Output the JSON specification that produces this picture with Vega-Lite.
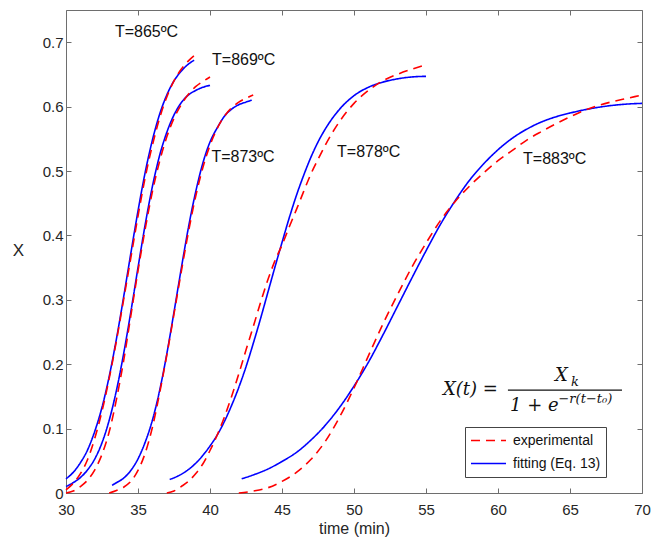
{
  "$schema": "https://vega.github.io/schema/vega-lite/v6.json",
  "width": 576,
  "height": 483,
  "autosize": "none",
  "padding": {"left": 66, "top": 10, "right": 12, "bottom": 54},
  "background": "white",
  "config": {
    "view": {"stroke": null},
    "font": "Liberation Sans",
    "axis": {"grid": false, "domainColor": "#6e6e6e", "tickColor": "#6e6e6e", "labelColor": "#262626", "titleColor": "#262626", "labelFont": "Liberation Sans", "titleFont": "Liberation Sans", "labelFontSize": 15, "titleFontSize": 16, "titleFontWeight": "normal", "tickSize": -5, "domainWidth": 1, "labelFlush": false, "labelOverlap": false}
  },
  "datasets": {
    "curves": [
      {"t": 30, "X": 0.022, "T": "865", "type": "fitting (Eq. 13)"},
      {"t": 30.5, "X": 0.032, "T": "865", "type": "fitting (Eq. 13)"},
      {"t": 31, "X": 0.047, "T": "865", "type": "fitting (Eq. 13)"},
      {"t": 31.5, "X": 0.067, "T": "865", "type": "fitting (Eq. 13)"},
      {"t": 32, "X": 0.096, "T": "865", "type": "fitting (Eq. 13)"},
      {"t": 32.5, "X": 0.133, "T": "865", "type": "fitting (Eq. 13)"},
      {"t": 33, "X": 0.181, "T": "865", "type": "fitting (Eq. 13)"},
      {"t": 33.5, "X": 0.239, "T": "865", "type": "fitting (Eq. 13)"},
      {"t": 34, "X": 0.304, "T": "865", "type": "fitting (Eq. 13)"},
      {"t": 34.5, "X": 0.372, "T": "865", "type": "fitting (Eq. 13)"},
      {"t": 35, "X": 0.438, "T": "865", "type": "fitting (Eq. 13)"},
      {"t": 35.5, "X": 0.498, "T": "865", "type": "fitting (Eq. 13)"},
      {"t": 36, "X": 0.548, "T": "865", "type": "fitting (Eq. 13)"},
      {"t": 36.5, "X": 0.588, "T": "865", "type": "fitting (Eq. 13)"},
      {"t": 37, "X": 0.618, "T": "865", "type": "fitting (Eq. 13)"},
      {"t": 37.5, "X": 0.64, "T": "865", "type": "fitting (Eq. 13)"},
      {"t": 38, "X": 0.655, "T": "865", "type": "fitting (Eq. 13)"},
      {"t": 38.5, "X": 0.666, "T": "865", "type": "fitting (Eq. 13)"},
      {"t": 38.9, "X": 0.672, "T": "865", "type": "fitting (Eq. 13)"},

      {"t": 30, "X": 0.005, "T": "865", "type": "experimental"},
      {"t": 30.5, "X": 0.015, "T": "865", "type": "experimental"},
      {"t": 31, "X": 0.03, "T": "865", "type": "experimental"},
      {"t": 31.5, "X": 0.052, "T": "865", "type": "experimental"},
      {"t": 32, "X": 0.085, "T": "865", "type": "experimental"},
      {"t": 32.5, "X": 0.127, "T": "865", "type": "experimental"},
      {"t": 33, "X": 0.178, "T": "865", "type": "experimental"},
      {"t": 33.5, "X": 0.236, "T": "865", "type": "experimental"},
      {"t": 34, "X": 0.3, "T": "865", "type": "experimental"},
      {"t": 34.5, "X": 0.365, "T": "865", "type": "experimental"},
      {"t": 35, "X": 0.43, "T": "865", "type": "experimental"},
      {"t": 35.5, "X": 0.49, "T": "865", "type": "experimental"},
      {"t": 36, "X": 0.54, "T": "865", "type": "experimental"},
      {"t": 36.5, "X": 0.582, "T": "865", "type": "experimental"},
      {"t": 37, "X": 0.615, "T": "865", "type": "experimental"},
      {"t": 37.5, "X": 0.64, "T": "865", "type": "experimental"},
      {"t": 38, "X": 0.658, "T": "865", "type": "experimental"},
      {"t": 38.5, "X": 0.671, "T": "865", "type": "experimental"},
      {"t": 39, "X": 0.681, "T": "865", "type": "experimental"},

      {"t": 30, "X": 0.01, "T": "869", "type": "fitting (Eq. 13)"},
      {"t": 30.5, "X": 0.016, "T": "869", "type": "fitting (Eq. 13)"},
      {"t": 31, "X": 0.024, "T": "869", "type": "fitting (Eq. 13)"},
      {"t": 31.5, "X": 0.036, "T": "869", "type": "fitting (Eq. 13)"},
      {"t": 32, "X": 0.053, "T": "869", "type": "fitting (Eq. 13)"},
      {"t": 32.5, "X": 0.078, "T": "869", "type": "fitting (Eq. 13)"},
      {"t": 33, "X": 0.113, "T": "869", "type": "fitting (Eq. 13)"},
      {"t": 33.5, "X": 0.159, "T": "869", "type": "fitting (Eq. 13)"},
      {"t": 34, "X": 0.216, "T": "869", "type": "fitting (Eq. 13)"},
      {"t": 34.5, "X": 0.281, "T": "869", "type": "fitting (Eq. 13)"},
      {"t": 35, "X": 0.35, "T": "869", "type": "fitting (Eq. 13)"},
      {"t": 35.5, "X": 0.417, "T": "869", "type": "fitting (Eq. 13)"},
      {"t": 36, "X": 0.476, "T": "869", "type": "fitting (Eq. 13)"},
      {"t": 36.5, "X": 0.524, "T": "869", "type": "fitting (Eq. 13)"},
      {"t": 37, "X": 0.56, "T": "869", "type": "fitting (Eq. 13)"},
      {"t": 37.5, "X": 0.587, "T": "869", "type": "fitting (Eq. 13)"},
      {"t": 38, "X": 0.606, "T": "869", "type": "fitting (Eq. 13)"},
      {"t": 38.5, "X": 0.618, "T": "869", "type": "fitting (Eq. 13)"},
      {"t": 39, "X": 0.625, "T": "869", "type": "fitting (Eq. 13)"},
      {"t": 39.5, "X": 0.63, "T": "869", "type": "fitting (Eq. 13)"},
      {"t": 40, "X": 0.633, "T": "869", "type": "fitting (Eq. 13)"},

      {"t": 30, "X": 0.0, "T": "869", "type": "experimental"},
      {"t": 30.5, "X": 0.003, "T": "869", "type": "experimental"},
      {"t": 31, "X": 0.01, "T": "869", "type": "experimental"},
      {"t": 31.5, "X": 0.02, "T": "869", "type": "experimental"},
      {"t": 32, "X": 0.036, "T": "869", "type": "experimental"},
      {"t": 32.5, "X": 0.06, "T": "869", "type": "experimental"},
      {"t": 33, "X": 0.095, "T": "869", "type": "experimental"},
      {"t": 33.5, "X": 0.145, "T": "869", "type": "experimental"},
      {"t": 34, "X": 0.205, "T": "869", "type": "experimental"},
      {"t": 34.5, "X": 0.275, "T": "869", "type": "experimental"},
      {"t": 35, "X": 0.345, "T": "869", "type": "experimental"},
      {"t": 35.5, "X": 0.41, "T": "869", "type": "experimental"},
      {"t": 36, "X": 0.468, "T": "869", "type": "experimental"},
      {"t": 36.5, "X": 0.515, "T": "869", "type": "experimental"},
      {"t": 37, "X": 0.553, "T": "869", "type": "experimental"},
      {"t": 37.5, "X": 0.582, "T": "869", "type": "experimental"},
      {"t": 38, "X": 0.603, "T": "869", "type": "experimental"},
      {"t": 38.5, "X": 0.619, "T": "869", "type": "experimental"},
      {"t": 39, "X": 0.631, "T": "869", "type": "experimental"},
      {"t": 39.5, "X": 0.639, "T": "869", "type": "experimental"},
      {"t": 40, "X": 0.646, "T": "869", "type": "experimental"},

      {"t": 33.2, "X": 0.012, "T": "873", "type": "fitting (Eq. 13)"},
      {"t": 33.5, "X": 0.016, "T": "873", "type": "fitting (Eq. 13)"},
      {"t": 34, "X": 0.023, "T": "873", "type": "fitting (Eq. 13)"},
      {"t": 34.5, "X": 0.035, "T": "873", "type": "fitting (Eq. 13)"},
      {"t": 35, "X": 0.053, "T": "873", "type": "fitting (Eq. 13)"},
      {"t": 35.5, "X": 0.079, "T": "873", "type": "fitting (Eq. 13)"},
      {"t": 36, "X": 0.113, "T": "873", "type": "fitting (Eq. 13)"},
      {"t": 36.5, "X": 0.159, "T": "873", "type": "fitting (Eq. 13)"},
      {"t": 37, "X": 0.216, "T": "873", "type": "fitting (Eq. 13)"},
      {"t": 37.5, "X": 0.281, "T": "873", "type": "fitting (Eq. 13)"},
      {"t": 38, "X": 0.348, "T": "873", "type": "fitting (Eq. 13)"},
      {"t": 38.5, "X": 0.412, "T": "873", "type": "fitting (Eq. 13)"},
      {"t": 39, "X": 0.467, "T": "873", "type": "fitting (Eq. 13)"},
      {"t": 39.5, "X": 0.512, "T": "873", "type": "fitting (Eq. 13)"},
      {"t": 40, "X": 0.545, "T": "873", "type": "fitting (Eq. 13)"},
      {"t": 40.5, "X": 0.567, "T": "873", "type": "fitting (Eq. 13)"},
      {"t": 41, "X": 0.585, "T": "873", "type": "fitting (Eq. 13)"},
      {"t": 41.5, "X": 0.596, "T": "873", "type": "fitting (Eq. 13)"},
      {"t": 42, "X": 0.603, "T": "873", "type": "fitting (Eq. 13)"},
      {"t": 42.5, "X": 0.607, "T": "873", "type": "fitting (Eq. 13)"},
      {"t": 42.9, "X": 0.61, "T": "873", "type": "fitting (Eq. 13)"},

      {"t": 33, "X": 0.0, "T": "873", "type": "experimental"},
      {"t": 33.5, "X": 0.004, "T": "873", "type": "experimental"},
      {"t": 34, "X": 0.009, "T": "873", "type": "experimental"},
      {"t": 34.5, "X": 0.018, "T": "873", "type": "experimental"},
      {"t": 35, "X": 0.035, "T": "873", "type": "experimental"},
      {"t": 35.5, "X": 0.062, "T": "873", "type": "experimental"},
      {"t": 36, "X": 0.102, "T": "873", "type": "experimental"},
      {"t": 36.5, "X": 0.155, "T": "873", "type": "experimental"},
      {"t": 37, "X": 0.214, "T": "873", "type": "experimental"},
      {"t": 37.5, "X": 0.278, "T": "873", "type": "experimental"},
      {"t": 38, "X": 0.343, "T": "873", "type": "experimental"},
      {"t": 38.5, "X": 0.405, "T": "873", "type": "experimental"},
      {"t": 39, "X": 0.46, "T": "873", "type": "experimental"},
      {"t": 39.5, "X": 0.505, "T": "873", "type": "experimental"},
      {"t": 40, "X": 0.54, "T": "873", "type": "experimental"},
      {"t": 40.5, "X": 0.566, "T": "873", "type": "experimental"},
      {"t": 41, "X": 0.585, "T": "873", "type": "experimental"},
      {"t": 41.5, "X": 0.598, "T": "873", "type": "experimental"},
      {"t": 42, "X": 0.607, "T": "873", "type": "experimental"},
      {"t": 42.5, "X": 0.613, "T": "873", "type": "experimental"},
      {"t": 43, "X": 0.618, "T": "873", "type": "experimental"},

      {"t": 37.2, "X": 0.021, "T": "878", "type": "fitting (Eq. 13)"},
      {"t": 38, "X": 0.029, "T": "878", "type": "fitting (Eq. 13)"},
      {"t": 39, "X": 0.046, "T": "878", "type": "fitting (Eq. 13)"},
      {"t": 40, "X": 0.073, "T": "878", "type": "fitting (Eq. 13)"},
      {"t": 40.5, "X": 0.09, "T": "878", "type": "fitting (Eq. 13)"},
      {"t": 41, "X": 0.111, "T": "878", "type": "fitting (Eq. 13)"},
      {"t": 41.5, "X": 0.136, "T": "878", "type": "fitting (Eq. 13)"},
      {"t": 42, "X": 0.164, "T": "878", "type": "fitting (Eq. 13)"},
      {"t": 42.5, "X": 0.196, "T": "878", "type": "fitting (Eq. 13)"},
      {"t": 43, "X": 0.232, "T": "878", "type": "fitting (Eq. 13)"},
      {"t": 43.5, "X": 0.27, "T": "878", "type": "fitting (Eq. 13)"},
      {"t": 44, "X": 0.31, "T": "878", "type": "fitting (Eq. 13)"},
      {"t": 44.5, "X": 0.35, "T": "878", "type": "fitting (Eq. 13)"},
      {"t": 45, "X": 0.389, "T": "878", "type": "fitting (Eq. 13)"},
      {"t": 45.5, "X": 0.427, "T": "878", "type": "fitting (Eq. 13)"},
      {"t": 46, "X": 0.462, "T": "878", "type": "fitting (Eq. 13)"},
      {"t": 46.5, "X": 0.493, "T": "878", "type": "fitting (Eq. 13)"},
      {"t": 47, "X": 0.521, "T": "878", "type": "fitting (Eq. 13)"},
      {"t": 47.5, "X": 0.545, "T": "878", "type": "fitting (Eq. 13)"},
      {"t": 48, "X": 0.565, "T": "878", "type": "fitting (Eq. 13)"},
      {"t": 49, "X": 0.596, "T": "878", "type": "fitting (Eq. 13)"},
      {"t": 50, "X": 0.617, "T": "878", "type": "fitting (Eq. 13)"},
      {"t": 51, "X": 0.63, "T": "878", "type": "fitting (Eq. 13)"},
      {"t": 52, "X": 0.638, "T": "878", "type": "fitting (Eq. 13)"},
      {"t": 53, "X": 0.643, "T": "878", "type": "fitting (Eq. 13)"},
      {"t": 54, "X": 0.646, "T": "878", "type": "fitting (Eq. 13)"},
      {"t": 55, "X": 0.647, "T": "878", "type": "fitting (Eq. 13)"},

      {"t": 37, "X": 0.0, "T": "878", "type": "experimental"},
      {"t": 37.5, "X": 0.003, "T": "878", "type": "experimental"},
      {"t": 38, "X": 0.01, "T": "878", "type": "experimental"},
      {"t": 38.5, "X": 0.018, "T": "878", "type": "experimental"},
      {"t": 39, "X": 0.03, "T": "878", "type": "experimental"},
      {"t": 39.5, "X": 0.045, "T": "878", "type": "experimental"},
      {"t": 40, "X": 0.066, "T": "878", "type": "experimental"},
      {"t": 40.5, "X": 0.09, "T": "878", "type": "experimental"},
      {"t": 41, "X": 0.118, "T": "878", "type": "experimental"},
      {"t": 41.5, "X": 0.15, "T": "878", "type": "experimental"},
      {"t": 42, "X": 0.185, "T": "878", "type": "experimental"},
      {"t": 42.5, "X": 0.222, "T": "878", "type": "experimental"},
      {"t": 43, "X": 0.258, "T": "878", "type": "experimental"},
      {"t": 43.5, "X": 0.295, "T": "878", "type": "experimental"},
      {"t": 44, "X": 0.33, "T": "878", "type": "experimental"},
      {"t": 44.5, "X": 0.36, "T": "878", "type": "experimental"},
      {"t": 45, "X": 0.385, "T": "878", "type": "experimental"},
      {"t": 45.5, "X": 0.413, "T": "878", "type": "experimental"},
      {"t": 46, "X": 0.44, "T": "878", "type": "experimental"},
      {"t": 46.5, "X": 0.468, "T": "878", "type": "experimental"},
      {"t": 47, "X": 0.495, "T": "878", "type": "experimental"},
      {"t": 47.5, "X": 0.518, "T": "878", "type": "experimental"},
      {"t": 48, "X": 0.54, "T": "878", "type": "experimental"},
      {"t": 49, "X": 0.577, "T": "878", "type": "experimental"},
      {"t": 50, "X": 0.605, "T": "878", "type": "experimental"},
      {"t": 51, "X": 0.625, "T": "878", "type": "experimental"},
      {"t": 52, "X": 0.64, "T": "878", "type": "experimental"},
      {"t": 53, "X": 0.65, "T": "878", "type": "experimental"},
      {"t": 54, "X": 0.658, "T": "878", "type": "experimental"},
      {"t": 55, "X": 0.665, "T": "878", "type": "experimental"},

      {"t": 42.2, "X": 0.022, "T": "883", "type": "fitting (Eq. 13)"},
      {"t": 43, "X": 0.028, "T": "883", "type": "fitting (Eq. 13)"},
      {"t": 44, "X": 0.037, "T": "883", "type": "fitting (Eq. 13)"},
      {"t": 45, "X": 0.049, "T": "883", "type": "fitting (Eq. 13)"},
      {"t": 46, "X": 0.063, "T": "883", "type": "fitting (Eq. 13)"},
      {"t": 47, "X": 0.082, "T": "883", "type": "fitting (Eq. 13)"},
      {"t": 48, "X": 0.105, "T": "883", "type": "fitting (Eq. 13)"},
      {"t": 49, "X": 0.133, "T": "883", "type": "fitting (Eq. 13)"},
      {"t": 50, "X": 0.166, "T": "883", "type": "fitting (Eq. 13)"},
      {"t": 51, "X": 0.203, "T": "883", "type": "fitting (Eq. 13)"},
      {"t": 52, "X": 0.245, "T": "883", "type": "fitting (Eq. 13)"},
      {"t": 53, "X": 0.289, "T": "883", "type": "fitting (Eq. 13)"},
      {"t": 54, "X": 0.333, "T": "883", "type": "fitting (Eq. 13)"},
      {"t": 55, "X": 0.376, "T": "883", "type": "fitting (Eq. 13)"},
      {"t": 56, "X": 0.417, "T": "883", "type": "fitting (Eq. 13)"},
      {"t": 57, "X": 0.453, "T": "883", "type": "fitting (Eq. 13)"},
      {"t": 58, "X": 0.485, "T": "883", "type": "fitting (Eq. 13)"},
      {"t": 59, "X": 0.511, "T": "883", "type": "fitting (Eq. 13)"},
      {"t": 60, "X": 0.533, "T": "883", "type": "fitting (Eq. 13)"},
      {"t": 61, "X": 0.551, "T": "883", "type": "fitting (Eq. 13)"},
      {"t": 62, "X": 0.565, "T": "883", "type": "fitting (Eq. 13)"},
      {"t": 63, "X": 0.576, "T": "883", "type": "fitting (Eq. 13)"},
      {"t": 64, "X": 0.584, "T": "883", "type": "fitting (Eq. 13)"},
      {"t": 65, "X": 0.59, "T": "883", "type": "fitting (Eq. 13)"},
      {"t": 66, "X": 0.595, "T": "883", "type": "fitting (Eq. 13)"},
      {"t": 67, "X": 0.599, "T": "883", "type": "fitting (Eq. 13)"},
      {"t": 68, "X": 0.602, "T": "883", "type": "fitting (Eq. 13)"},
      {"t": 69, "X": 0.604, "T": "883", "type": "fitting (Eq. 13)"},
      {"t": 70, "X": 0.605, "T": "883", "type": "fitting (Eq. 13)"},

      {"t": 42, "X": 0.0, "T": "883", "type": "experimental"},
      {"t": 43, "X": 0.003, "T": "883", "type": "experimental"},
      {"t": 44, "X": 0.008, "T": "883", "type": "experimental"},
      {"t": 45, "X": 0.018, "T": "883", "type": "experimental"},
      {"t": 46, "X": 0.032, "T": "883", "type": "experimental"},
      {"t": 47, "X": 0.052, "T": "883", "type": "experimental"},
      {"t": 48, "X": 0.08, "T": "883", "type": "experimental"},
      {"t": 49, "X": 0.118, "T": "883", "type": "experimental"},
      {"t": 50, "X": 0.163, "T": "883", "type": "experimental"},
      {"t": 51, "X": 0.213, "T": "883", "type": "experimental"},
      {"t": 52, "X": 0.262, "T": "883", "type": "experimental"},
      {"t": 53, "X": 0.307, "T": "883", "type": "experimental"},
      {"t": 54, "X": 0.35, "T": "883", "type": "experimental"},
      {"t": 55, "X": 0.388, "T": "883", "type": "experimental"},
      {"t": 56, "X": 0.423, "T": "883", "type": "experimental"},
      {"t": 57, "X": 0.452, "T": "883", "type": "experimental"},
      {"t": 58, "X": 0.476, "T": "883", "type": "experimental"},
      {"t": 59, "X": 0.497, "T": "883", "type": "experimental"},
      {"t": 60, "X": 0.516, "T": "883", "type": "experimental"},
      {"t": 61, "X": 0.532, "T": "883", "type": "experimental"},
      {"t": 62, "X": 0.548, "T": "883", "type": "experimental"},
      {"t": 63, "X": 0.561, "T": "883", "type": "experimental"},
      {"t": 64, "X": 0.573, "T": "883", "type": "experimental"},
      {"t": 65, "X": 0.584, "T": "883", "type": "experimental"},
      {"t": 66, "X": 0.594, "T": "883", "type": "experimental"},
      {"t": 67, "X": 0.602, "T": "883", "type": "experimental"},
      {"t": 68, "X": 0.608, "T": "883", "type": "experimental"},
      {"t": 69, "X": 0.613, "T": "883", "type": "experimental"},
      {"t": 70, "X": 0.618, "T": "883", "type": "experimental"}
    ],
    "labels": [
      {"t": 33.4, "X": 0.716, "label": "T=865ºC"},
      {"t": 40.14, "X": 0.673, "label": "T=869ºC"},
      {"t": 40.1, "X": 0.522, "label": "T=873ºC"},
      {"t": 48.82, "X": 0.53, "label": "T=878ºC"},
      {"t": 61.74, "X": 0.519, "label": "T=883ºC"}
    ]
  },
  "layer": [
    {
      "data": {"name": "curves"},
      "transform": [{"filter": "datum.type == 'fitting (Eq. 13)'"}],
      "mark": {"type": "line", "strokeWidth": 1.6, "interpolate": "monotone"},
      "encoding": {
        "x": {"field": "t", "type": "quantitative", "scale": {"domain": [30, 70], "nice": false, "zero": false},
              "axis": {"orient": "bottom", "values": [30, 35, 40, 45, 50, 55, 60, 65, 70], "title": "time (min)", "labelPadding": 14, "titleY": 35, "titleBaseline": "middle"}},
        "y": {"field": "X", "type": "quantitative", "scale": {"domain": [0, 0.75], "nice": false, "zero": false},
              "axis": {"orient": "left", "values": [0, 0.1, 0.2, 0.3, 0.4, 0.5, 0.6, 0.7], "labelExpr": "datum.value == 0 ? '0' : format(datum.value, '.1f')", "title": "X", "titleAngle": 0, "titleX": -48, "titleY": 240, "titleAlign": "center", "titleBaseline": "middle", "titleFontSize": 17, "labelPadding": 8}},
        "color": {"field": "type", "type": "nominal", "scale": {"domain": ["experimental", "fitting (Eq. 13)"], "range": ["#ff0000", "#0000ff"]},
                  "legend": {"title": null, "orient": "none", "legendX": 399, "legendY": 417, "strokeColor": "#444444", "fillColor": "white", "padding": 5, "rowPadding": 6, "labelFontSize": 14, "labelColor": "#111111", "symbolType": "stroke", "symbolSize": 1225, "symbolStrokeWidth": 1.6, "labelOffset": 6, "clipHeight": 17, "cornerRadius": 0}},
        "strokeDash": {"field": "type", "type": "nominal", "scale": {"domain": ["experimental", "fitting (Eq. 13)"], "range": [[9, 6], [1, 0]]}, "legend": null},
        "detail": {"field": "T"}
      }
    },
    {
      "data": {"name": "curves"},
      "transform": [{"filter": "datum.type == 'experimental'"}],
      "mark": {"type": "line", "strokeWidth": 1.6, "interpolate": "monotone"},
      "encoding": {
        "x": {"field": "t", "type": "quantitative", "axis": null},
        "y": {"field": "X", "type": "quantitative", "axis": null},
        "color": {"field": "type", "type": "nominal"},
        "strokeDash": {"field": "type", "type": "nominal"},
        "detail": {"field": "T"}
      }
    },
    {
      "data": {"name": "curves"},
      "mark": {"type": "line", "opacity": 0},
      "encoding": {
        "x": {"field": "t", "type": "quantitative", "axis": {"orient": "top", "values": [30, 35, 40, 45, 50, 55, 60, 65, 70], "labels": false, "title": null}},
        "y": {"field": "X", "type": "quantitative", "axis": {"orient": "right", "values": [0, 0.1, 0.2, 0.3, 0.4, 0.5, 0.6, 0.7], "labels": false, "title": null}},
        "detail": {"field": "T"}
      }
    },
    {
      "data": {"name": "labels"},
      "mark": {"type": "text", "align": "left", "baseline": "middle", "fontSize": 16, "font": "Liberation Sans", "color": "#111111"},
      "encoding": {
        "x": {"field": "t", "type": "quantitative", "axis": null},
        "y": {"field": "X", "type": "quantitative", "axis": null},
        "text": {"field": "label"}
      }
    },
    {
      "data": {"values": [{"t": 56.18, "X": 0.1597, "s": "X(t) ="}, {"t": 63.96, "X": 0.1814, "s": "X"}, {"t": 60.83, "X": 0.1349, "s": "1 + e"}]},
      "mark": {"type": "text", "align": "left", "baseline": "middle", "fontSize": 18, "font": "DejaVu Serif", "fontStyle": "italic", "color": "#111111"},
      "encoding": {
        "x": {"field": "t", "type": "quantitative", "axis": null},
        "y": {"field": "X", "type": "quantitative", "axis": null},
        "text": {"field": "s"}
      }
    },
    {
      "data": {"values": [{"t": 65.07, "X": 0.172, "s": "k"}, {"t": 64.2, "X": 0.1457, "s": "−r(t−t₀)"}]},
      "mark": {"type": "text", "align": "left", "baseline": "middle", "fontSize": 13, "font": "DejaVu Serif", "fontStyle": "italic", "color": "#111111"},
      "encoding": {
        "x": {"field": "t", "type": "quantitative", "axis": null},
        "y": {"field": "X", "type": "quantitative", "axis": null},
        "text": {"field": "s"}
      }
    },
    {
      "data": {"values": [{"t1": 60.69, "t2": 68.61, "X": 0.1597}]},
      "mark": {"type": "rule", "strokeWidth": 1.3, "color": "#111111"},
      "encoding": {
        "x": {"field": "t1", "type": "quantitative", "axis": null},
        "x2": {"field": "t2"},
        "y": {"field": "X", "type": "quantitative", "axis": null}
      }
    }
  ],
  "resolve": {"axis": {"x": "independent", "y": "independent"}}
}
